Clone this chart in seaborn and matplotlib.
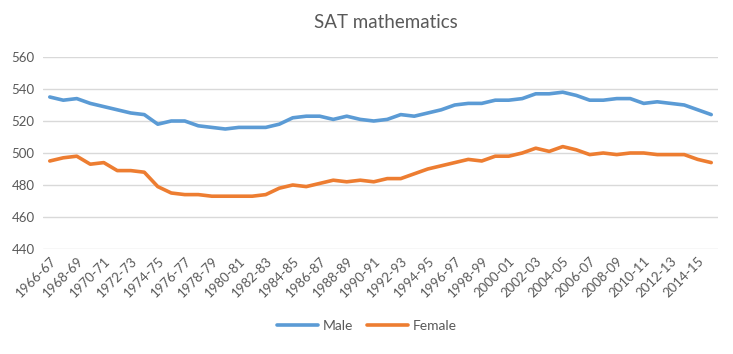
import matplotlib
matplotlib.use("Agg")
import matplotlib.pyplot as plt
import pandas as pd
import seaborn as sns


years = [f"{y}-{(y + 1) % 100:02d}" for y in range(1966, 2016)]

male = [535, 533, 534, 531, 529, 527, 525, 524, 518, 520,
        520, 517, 516, 515, 516, 516, 516, 518, 522, 523,
        523, 521, 523, 521, 520, 521, 524, 523, 525, 527,
        530, 531, 531, 533, 533, 534, 537, 537, 538, 536,
        533, 533, 534, 534, 531, 532, 531, 530, 527, 524]

female = [495, 497, 498, 493, 494, 489, 489, 488, 479, 475,
          474, 474, 473, 473, 473, 473, 474, 478, 480, 479,
          481, 483, 482, 483, 482, 484, 484, 487, 490, 492,
          494, 496, 495, 498, 498, 500, 503, 501, 504, 502,
          499, 500, 499, 500, 500, 499, 499, 499, 496, 494]

df = pd.DataFrame({"year": years * 2,
                   "score": male + female,
                   "sex": ["Male"] * len(years) + ["Female"] * len(years)})

sns.set_style("white")
plt.rcParams["font.family"] = ["Lato", "DejaVu Sans"]
gray = "#595959"

fig = plt.figure(figsize=(7.33, 3.54), dpi=100)
ax = fig.add_axes([0.0587, 0.2966, 0.9208, 0.5424])

sns.lineplot(data=df, x="year", y="score", hue="sex", sort=False,
             palette={"Male": "#5B9BD5", "Female": "#ED7D31"},
             linewidth=2.6, ax=ax, legend=True)

ax.set_ylim(440, 560)
ax.set_yticks(range(440, 561, 20))
ax.set_xlim(-0.5, len(years) - 0.5)
ax.set_xticks(range(0, len(years), 2))
ax.set_xticklabels(years[::2], rotation=45, ha="right", rotation_mode="anchor")
ax.grid(axis="y", color="#D9D9D9", linewidth=1)
ax.set_axisbelow(True)
for s in ax.spines.values():
    s.set_visible(False)
ax.tick_params(axis="both", length=0, labelsize=9.5, colors=gray)
ax.tick_params(axis="x", pad=4)
ax.tick_params(axis="y", pad=6)
ax.set_xlabel("")
ax.set_ylabel("")

handles, labels = ax.get_legend_handles_labels()
ax.get_legend().remove()
fig.legend(handles, labels, loc="center", bbox_to_anchor=(0.5, 0.08), ncol=2,
           frameon=False, fontsize=10, labelcolor=gray, handlelength=3,
           columnspacing=1.0, handletextpad=0.3)

fig.suptitle("SAT mathematics", x=0.527, y=0.96, fontsize=13.5, color=gray)

fig.savefig("out.png", dpi=100)
